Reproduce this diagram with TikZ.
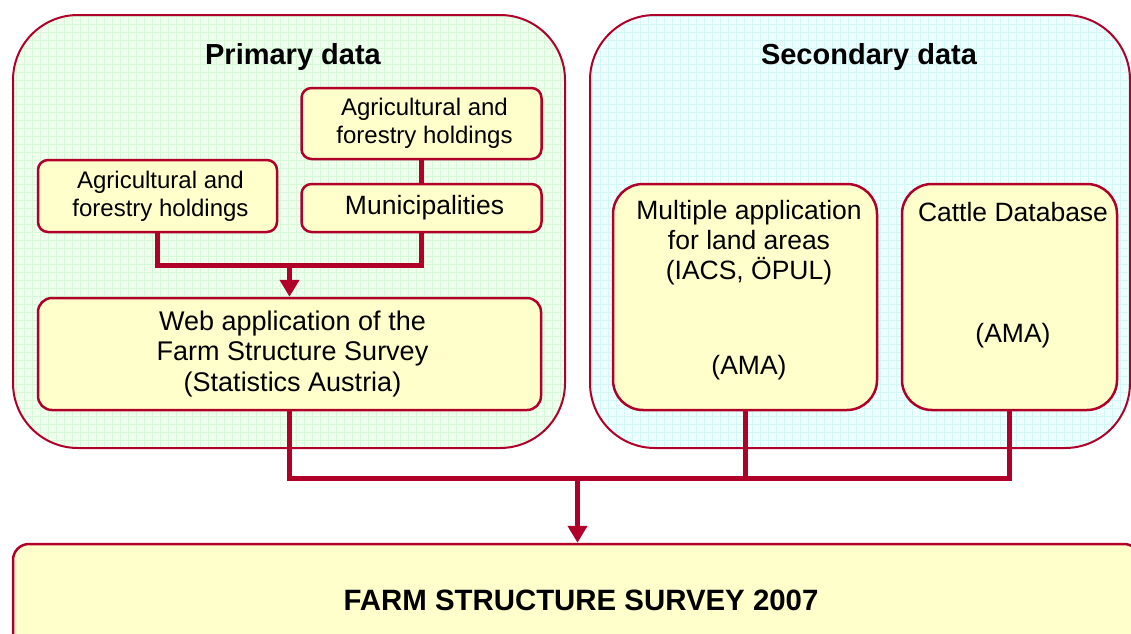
\documentclass[tikz,border=0pt]{standalone}
\usepackage{fontspec}
\setmainfont{Liberation Sans}
\usetikzlibrary{arrows.meta}
\definecolor{crim}{HTML}{B0002A}
\definecolor{boxfill}{HTML}{FFFFCC}
\definecolor{greenbg}{HTML}{EEFFEE}
\definecolor{greengrid}{HTML}{D6F8D6}
\definecolor{cyanbg}{HTML}{EEFFFF}
\definecolor{cyangrid}{HTML}{D2F7F7}
\newcommand{\sh}{\hspace*{6pt}}
\tikzset{
  box/.style={draw=crim, line width=2.5pt, fill=boxfill, rounded corners=10pt, inner sep=0pt, align=center, font=\fontsize{24}{28}\selectfont},
  bigbox/.style={draw=crim, line width=2.5pt, fill=boxfill, rounded corners=30pt, inner sep=0pt},
  txt/.style={inner sep=0pt, align=center, font=\fontsize{26.5}{30}\selectfont},
  title/.style={inner sep=0pt, font=\fontsize{29}{33}\selectfont\bfseries},
  conn/.style={draw=crim, line width=5pt},
  arr/.style={-{Triangle[width=19pt,length=17pt]}},
  outer/.style={draw=crim, line width=2pt, rounded corners=65pt}
}
\begin{document}
\begin{tikzpicture}[x=1pt,y=-1pt]
\useasboundingbox (0,0) rectangle (1131,633);
% primary outer
\begin{scope}
\clip[rounded corners=65pt] (13,15) rectangle (565,448);
\fill[greenbg] (13,15) rectangle (565,448);
\draw[greengrid, line width=0.5pt, step=8pt] (13,15) grid (565,448);
\end{scope}
\draw[outer] (13,15) rectangle (565,448);
% secondary outer
\begin{scope}
\clip[rounded corners=65pt] (590,15) rectangle (1130,448);
\fill[cyanbg] (590,15) rectangle (1130,448);
\draw[cyangrid, line width=0.5pt, step=8pt] (590,15) grid (1130,448);
\end{scope}
\draw[outer] (590,15) rectangle (1130,448);

\node[title] (ptitle) at (293,57) {Primary data};
\node[title] (stitle) at (869,57) {Secondary data};

\node[box, minimum width=240pt, minimum height=71pt] (top) at (421.5,123.5) {\sh Agricultural and\\\sh forestry holdings};
\node[box, minimum width=240pt, minimum height=48pt, font=\fontsize{26.5}{30}\selectfont] (muni) at (421.5,208) {\sh Municipalities};
\node[box, minimum width=239pt, minimum height=72pt] (left) at (157.5,196) {\sh Agricultural and\\\sh forestry holdings};
\node[box, minimum width=503pt, minimum height=112pt, rounded corners=14pt, font=\fontsize{27}{30.5}\selectfont] (web) at (289.5,354) {\sh Web application of the\\\sh Farm Structure Survey\\\sh (Statistics Austria)};

\node[bigbox, minimum width=264pt, minimum height=226pt] (mult) at (745,297) {};
\node[txt] (multt) at (749,243) {Multiple application\\for land areas\\(IACS, ÖPUL)};
\node[txt] (multa) at (749,368) {(AMA)};
\node[bigbox, minimum width=215pt, minimum height=226pt] (cattle) at (1009.5,297) {};
\node[txt] (cattlet) at (1013,212) {Cattle Database};
\node[txt] (cattlea) at (1013,336) {(AMA)};

\node[draw=crim, line width=2.5pt, fill=boxfill, rounded corners=16pt, minimum width=1127pt, minimum height=116pt, inner sep=0pt] (final) at (576.5,602) {};
\node[title, font=\fontsize{29.4}{33}\selectfont\bfseries] (finalt) at (581,600) {FARM STRUCTURE SURVEY 2007};

% connectors
\draw[conn] (top.south) -- (muni.north);
\coordinate (busA) at (289.5,265);
\draw[conn] (left.south) |- (busA -| muni.south) -- (muni.south);
\draw[conn, arr] (busA) -- (web.north);
\coordinate (busB) at (577.5,478);
\draw[conn] (web.south) |- (busB -| cattle.south) -- (cattle.south);
\draw[conn] (mult.south) -- (mult.south |- busB);
\draw[conn, arr] (busB) -- (busB |- final.north);
\end{tikzpicture}
\end{document}
